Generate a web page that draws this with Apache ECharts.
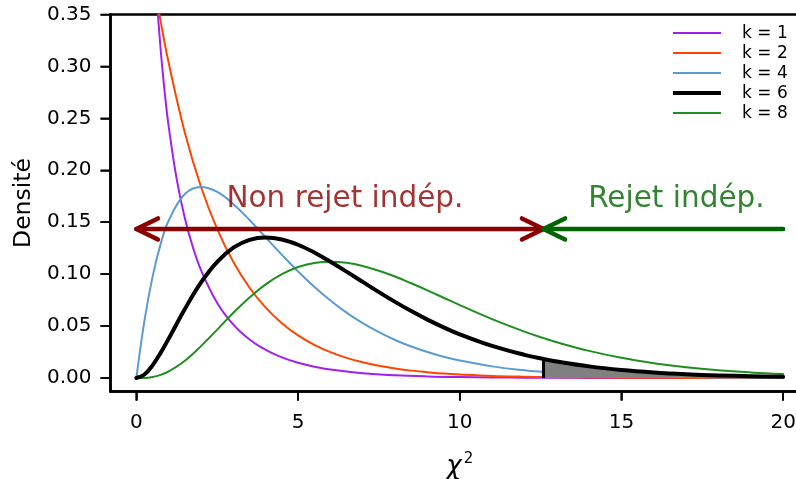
<!DOCTYPE html>
<html>
<head>
<meta charset="utf-8">
<script src="https://cdn.jsdelivr.net/npm/echarts@6/dist/echarts.min.js"></script>
<style>
  html, body { margin: 0; padding: 0; background: #ffffff; }
  #chart { width: 796px; height: 479px; background: #ffffff; }
</style>
</head>
<body>
<div id="chart"></div>
<script>
// Chi-square densities, sampled along the statistic
const chi2 = [0, 0.25, 0.5, 0.75, 1, 1.5, 2, 2.5, 3, 3.5, 4, 4.5, 5, 5.5, 6, 6.5, 7, 7.5, 8, 8.5,
              9, 9.5, 10, 11, 12, 12.59, 13, 14, 15, 16, 17, 18, 19, 20];
const densK2 = [0.5, 0.4412, 0.3894, 0.3436, 0.3033, 0.2362, 0.1839, 0.1433, 0.1116, 0.0869, 0.0677,
                0.0527, 0.0410, 0.0320, 0.0249, 0.0194, 0.0151, 0.0118, 0.0092, 0.0071, 0.0056, 0.0043,
                0.0034, 0.0020, 0.0012, 0.0009, 0.0008, 0.0005, 0.0003, 0.0002, 0.0001, 0.0001, 0, 0];
const densK4 = [0, 0.0552, 0.0974, 0.1289, 0.1516, 0.1771, 0.1839, 0.1791, 0.1673, 0.1521, 0.1353,
                0.1186, 0.1026, 0.0879, 0.0747, 0.0630, 0.0528, 0.0441, 0.0366, 0.0303, 0.0250, 0.0205,
                0.0168, 0.0112, 0.0074, 0.0058, 0.0049, 0.0032, 0.0021, 0.0013, 0.0009, 0.0006, 0.0004, 0.0002];
const densK6 = [0, 0.0034, 0.0122, 0.0242, 0.0379, 0.0664, 0.0920, 0.1119, 0.1255, 0.1330, 0.1353,
                0.1334, 0.1283, 0.1209, 0.1120, 0.1024, 0.0925, 0.0827, 0.0733, 0.0644, 0.0562, 0.0488,
                0.0421, 0.0309, 0.0223, 0.0183, 0.0159, 0.0112, 0.0078, 0.0054, 0.0037, 0.0025, 0.0017, 0.0011];
const densK8 = [0, 0.0001, 0.0010, 0.0030, 0.0063, 0.0166, 0.0307, 0.0466, 0.0628, 0.0776, 0.0902,
                0.1000, 0.1069, 0.1108, 0.1120, 0.1109, 0.1079, 0.1033, 0.0977, 0.0912, 0.0844, 0.0773,
                0.0702, 0.0567, 0.0446, 0.0384, 0.0344, 0.0261, 0.0194, 0.0143, 0.0104, 0.0075, 0.0054, 0.0038];
// k = 1 diverges at zero, so it gets its own finer grid near the origin
const chi2K1 = [0.3, 0.4, 0.5, 0.6, 0.7, 0.8, 0.9, 1, 1.25, 1.5, 1.75, 2, 2.5, 3, 3.5, 4, 4.5, 5, 5.5, 6,
                7, 8, 9, 10, 11, 12, 13, 14, 15, 16, 17, 18, 19, 20];
const densK1 = [0.6269, 0.5164, 0.4394, 0.3815, 0.3360, 0.2990, 0.2681, 0.2420, 0.1910, 0.1539, 0.1257,
                0.1038, 0.0723, 0.0514, 0.0371, 0.0270, 0.0198, 0.0146, 0.0109, 0.0081, 0.0046, 0.0026,
                0.0015, 0.0009, 0.0005, 0.0003, 0.0002, 0.0001, 0.0001, 0, 0, 0, 0, 0];

const seriesNames = ['k = 1', 'k = 2', 'k = 4', 'k = 6', 'k = 8'];
const seriesX = [chi2K1, chi2, chi2, chi2, chi2];
const seriesY = [densK1, densK2, densK4, densK6, densK8];

// 5% critical value for k = 6 and the decision zones
const critical = 12.59;
const arrowLevel = 0.1435;
const arrowFrom = [critical, 20];
const arrowTo = [0, critical];
const arrowBothEnds = [true, false];
const zoneLabels = ['Non rejet indép.', 'Rejet indép.'];
const zoneLabelX = [6.45, 16.7];
const zoneLabelY = 0.172;

const xTicks = [0, 5, 10, 15, 20];
const yTicks = [0, 0.05, 0.10, 0.15, 0.20, 0.25, 0.30, 0.35];
const xRange = [-0.8, 20.8];
const yRange = [-0.013, 0.35];

// styling
const FONT = "'DejaVu Sans', 'Liberation Sans', Arial, sans-serif";
const seriesColors = ['#A020F0', '#FF4500', '#5B9BD5', '#000000', '#1F8F1F'];
const seriesWidths = [2, 2, 2, 4, 2];
const zoneColors = ['#8B0000', '#006400'];

const pairs = (xs, ys) => xs.map((x, i) => [x, ys[i]]);

const curveSeries = seriesNames.map((name, i) => ({
  name,
  type: 'line',
  data: pairs(seriesX[i], seriesY[i]),
  smooth: 0.4,
  showSymbol: false,
  symbol: 'none',
  clip: true,
  silent: true,
  z: name === 'k = 6' ? 6 : 3,
  lineStyle: { color: seriesColors[i], width: seriesWidths[i], cap: 'round', join: 'round' }
}));

// rejection region under the k = 6 density
const critIndex = chi2.indexOf(critical);
const tailX = chi2.slice(critIndex);
const tailY = densK6.slice(critIndex);
const critDensity = densK6[critIndex];

// short outward tick segments, expressed in axis units
const xTickDepth = 0.0087;
const yTickDepth = 0.31;
const tickSeries = [
  ...xTicks.map(v => [[v, yRange[0]], [v, yRange[0] - xTickDepth]]),
  ...yTicks.map(v => [[xRange[0], v], [xRange[0] - yTickDepth, v]])
].map(seg => ({
  type: 'line', data: seg, symbol: 'none', silent: true, clip: false, z: 10,
  lineStyle: { color: '#000', width: 1.6 }
}));

const chart = echarts.init(document.getElementById('chart'));

function arrowItem(params, api) {
  const a = api.coord([api.value(0), api.value(2)]);
  const b = api.coord([api.value(1), api.value(2)]);
  const color = zoneColors[params.dataIndex];
  const L = 24, ang = 26 * Math.PI / 180, c = Math.cos(ang), s = Math.sin(ang);
  const head = (tip, from) => {
    const dx = from[0] - tip[0], dy = from[1] - tip[1];
    const len = Math.hypot(dx, dy), ux = dx / len, uy = dy / len;
    return [
      [tip[0] + L * (ux * c - uy * s), tip[1] + L * (uy * c + ux * s)],
      tip,
      [tip[0] + L * (ux * c + uy * s), tip[1] + L * (uy * c - ux * s)]
    ];
  };
  const st = { stroke: color, lineWidth: 4.5, fill: null, lineCap: 'round', lineJoin: 'round' };
  const children = [
    { type: 'line', shape: { x1: a[0], y1: a[1], x2: b[0], y2: b[1] }, style: st },
    { type: 'polyline', shape: { points: head(b, a) }, style: st }
  ];
  if (api.value(3)) children.push({ type: 'polyline', shape: { points: head(a, b) }, style: st });
  return { type: 'group', children };
}

function legendGraphics() {
  const out = [];
  seriesNames.forEach((name, i) => {
    const y = 33 + i * 20;
    out.push({
      type: 'line', z: 100, shape: { x1: 673, y1: y, x2: 721, y2: y },
      style: { stroke: seriesColors[i], lineWidth: seriesWidths[i] }
    });
    out.push({
      type: 'text', z: 100, x: 742, y: y + 1,
      style: { text: name, fill: '#000', fontSize: 17, fontFamily: FONT, verticalAlign: 'middle', align: 'left' }
    });
  });
  return out;
}

const frameLine = { show: true, onZero: false, lineStyle: { color: '#000', width: 2.5 } };
const tickStyle = { show: true, length: 9, lineStyle: { color: '#000', width: 1.6 } };

chart.setOption({
  animation: false,
  grid: {
    left: 110.5, top: 14.5, right: -13, bottom: 87.5,
    outerBoundsMode: 'none',
    show: true, borderColor: '#000', borderWidth: 2.5
  },
  xAxis: {
    type: 'value', min: xRange[0], max: xRange[1],
    splitLine: { show: false },
    axisLine: frameLine,
    axisTick: Object.assign({ customValues: xTicks }, tickStyle),
    axisLabel: { customValues: xTicks, margin: 21, color: '#000', fontSize: 20, fontFamily: FONT, formatter: v => String(v) },
    name: '{c|χ}{s|2}', nameLocation: 'middle', nameGap: 60,
    nameTextStyle: {
      rich: {
        c: { fontSize: 26, fontStyle: 'italic', color: '#000', fontFamily: FONT },
        s: { fontSize: 15, color: '#000', fontFamily: FONT, padding: [0, 0, 16, 2] }
      }
    }
  },
  yAxis: {
    type: 'value', min: yRange[0], max: yRange[1],
    splitLine: { show: false },
    axisLine: frameLine,
    axisTick: Object.assign({ customValues: yTicks }, tickStyle, { length: 10 }),
    axisLabel: { customValues: yTicks, margin: 19, color: '#000', fontSize: 20, fontFamily: FONT, formatter: v => v.toFixed(2) },
    name: 'Densité', nameLocation: 'middle', nameGap: 74,
    nameTextStyle: { fontSize: 23.5, color: '#000', fontFamily: FONT }
  },
  series: [
    ...curveSeries,
    {
      name: 'tail', type: 'line', data: pairs(tailX, tailY), smooth: 0.4,
      symbol: 'none', silent: true, z: 5,
      lineStyle: { width: 0 },
      areaStyle: { color: '#808080', opacity: 1, origin: 'auto' }
    },
    {
      name: 'critical', type: 'line', data: [[critical, 0], [critical, critDensity]],
      symbol: 'none', silent: true, z: 6,
      lineStyle: { color: '#000', width: 3 }
    },
    {
      name: 'zones', type: 'custom', coordinateSystem: 'cartesian2d', silent: true, z: 8, clip: false,
      renderItem: arrowItem,
      encode: { x: [0, 1], y: 2 },
      data: arrowFrom.map((f, i) => [f, arrowTo[i], arrowLevel, arrowBothEnds[i] ? 1 : 0])
    },
    {
      name: 'zoneLabels', type: 'scatter', symbolSize: 0, silent: true, z: 9,
      itemStyle: { color: 'transparent' },
      data: zoneLabelX.map((x, i) => ({
        value: [x, zoneLabelY], name: zoneLabels[i],
        label: { color: zoneColors[i] }
      })),
      label: {
        show: true, position: 'inside', formatter: '{b}', fontSize: 29.5, fontFamily: FONT,
        textBorderWidth: 0, textBorderColor: 'transparent'
      }
    },
    ...tickSeries
  ]
});

// outward tick marks on the frame, positioned through the axis scales
const toPx = v => chart.convertToPixel({ gridIndex: 0 }, v);
const tickGraphics = [
  ...xTicks.map(v => {
    const p = toPx([v, yRange[0]]);
    return { type: 'line', z: 100, shape: { x1: p[0], y1: p[1], x2: p[0], y2: p[1] + 9 }, style: { stroke: '#000', lineWidth: 1.6 } };
  }),
  ...yTicks.map(v => {
    const p = toPx([xRange[0], v]);
    return { type: 'line', z: 100, shape: { x1: p[0] - 10, y1: p[1], x2: p[0], y2: p[1] }, style: { stroke: '#000', lineWidth: 1.6 } };
  })
];
chart.setOption({ graphic: [...legendGraphics(), ...tickGraphics] });
</script>
</body>
</html>
